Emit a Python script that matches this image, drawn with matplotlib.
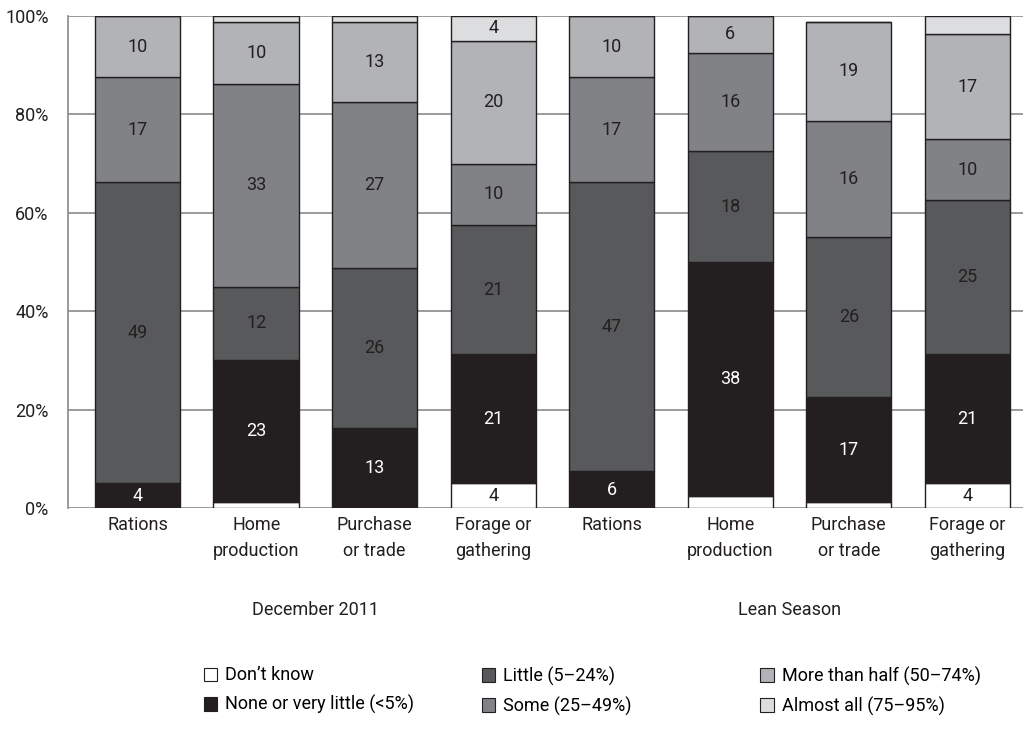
import matplotlib
matplotlib.use("Agg")
import matplotlib.pyplot as plt
from matplotlib.patches import Patch
import numpy as np

plt.rcParams['font.family'] = ['Roboto', 'DejaVu Sans']

# Categorías (eje x)
categories = ["Rations", "Home\nproduction", "Purchase\nor trade", "Forage or\ngathering",
              "Rations", "Home\nproduction", "Purchase\nor trade", "Forage or\ngathering"]
groups = ["December 2011", "Lean Season"]

# Alturas de los segmentos (% del total)
dont_know = [0, 1.25, 0, 5, 0, 2.5, 1.25, 5]
none_little = [5, 28.75, 16.25, 26.25, 7.5, 47.5, 21.25, 26.25]
little = [61.25, 15, 32.5, 26.25, 58.75, 22.5, 32.5, 31.25]
some = [21.25, 41.25, 33.75, 12.5, 21.25, 20, 23.75, 12.5]
more_half = [12.5, 12.5, 16.25, 25, 12.5, 7.5, 20, 21.25]
almost_all = [0, 1.25, 1.25, 5, 0, 0, 0, 3.75]

# Etiquetas (número de respuestas)
dont_know_lbl = ["", "", "", "4", "", "", "", "4"]
none_little_lbl = ["4", "23", "13", "21", "6", "38", "17", "21"]
little_lbl = ["49", "12", "26", "21", "47", "18", "26", "25"]
some_lbl = ["17", "33", "27", "10", "17", "16", "16", "10"]
more_half_lbl = ["10", "10", "13", "20", "10", "6", "19", "17"]
almost_all_lbl = ["", "", "", "4", "", "", "", ""]

series = [
    ("Don\u2019t know", dont_know, dont_know_lbl, "#ffffff", "#231f20"),
    ("None or very little (<5%)", none_little, none_little_lbl, "#231f20", "#ffffff"),
    ("Little (5\u201324%)", little, little_lbl, "#58595b", "#231f20"),
    ("Some (25\u201349%)", some, some_lbl, "#808285", "#231f20"),
    ("More than half (50\u201374%)", more_half, more_half_lbl, "#b1b3b6", "#231f20"),
    ("Almost all (75\u201395%)", almost_all, almost_all_lbl, "#dcddde", "#231f20"),
]

fs = 13
fig = plt.figure(figsize=(10.23, 7.43), dpi=100)
ax = fig.add_axes([0.0665, 0.3163, 0.9335, 0.6622])

x = np.arange(len(categories))
bottom = np.zeros(len(categories))
for name, vals, lbls, color, tcolor in series:
    vals = np.array(vals, dtype=float)
    ax.bar(x, vals, width=0.72, bottom=bottom, color=color, edgecolor="#231f20",
           linewidth=1.0, zorder=3)
    for xi, b, v, t in zip(x, bottom, vals, lbls):
        if t:
            ax.text(xi, b + v / 2, t, ha="center", va="center", color=tcolor,
                    fontsize=fs, zorder=4)
    bottom += vals

ax.set_xlim(-0.587, 7.47)
ax.set_ylim(0, 100)
ax.set_yticks([0, 20, 40, 60, 80, 100])
ax.set_yticklabels(["0%", "20%", "40%", "60%", "80%", "100%"])
ax.yaxis.grid(True, color="#8a8a8a", linewidth=1.2, zorder=0)
ax.set_axisbelow(True)
ax.tick_params(axis="y", length=0, pad=14, labelsize=fs, colors="#231f20")
ax.set_xticks(x)
ax.set_xticklabels(categories, fontsize=fs, color="#231f20", linespacing=1.55)
ax.tick_params(axis="x", length=0, pad=6)
for s in ["top", "right", "bottom"]:
    ax.spines[s].set_visible(False)
ax.spines["left"].set_color("#8a8a8a")
ax.spines["left"].set_linewidth(1.2)

# Etiquetas de grupo
tr = ax.get_xaxis_transform()
ax.text(1.5, -0.207, groups[0], transform=tr, ha="center", va="center", fontsize=fs, color="#231f20")
ax.text(5.5, -0.207, groups[1], transform=tr, ha="center", va="center", fontsize=fs, color="#231f20")

# Leyenda en tres columnas
handles = [Patch(facecolor=c, edgecolor="#231f20", linewidth=0.8, label=n) for n, _, _, c, _ in series]
xs = [0.199, 0.471, 0.743]
for i in range(3):
    fig.legend(handles=handles[2 * i:2 * i + 2], loc="upper left", bbox_to_anchor=(xs[i], 0.103),
               frameon=False, fontsize=fs, handlelength=0.75, handleheight=0.75,
               handletextpad=0.45, labelspacing=0.6, borderpad=0, borderaxespad=0)

fig.savefig("out.png", dpi=100)
